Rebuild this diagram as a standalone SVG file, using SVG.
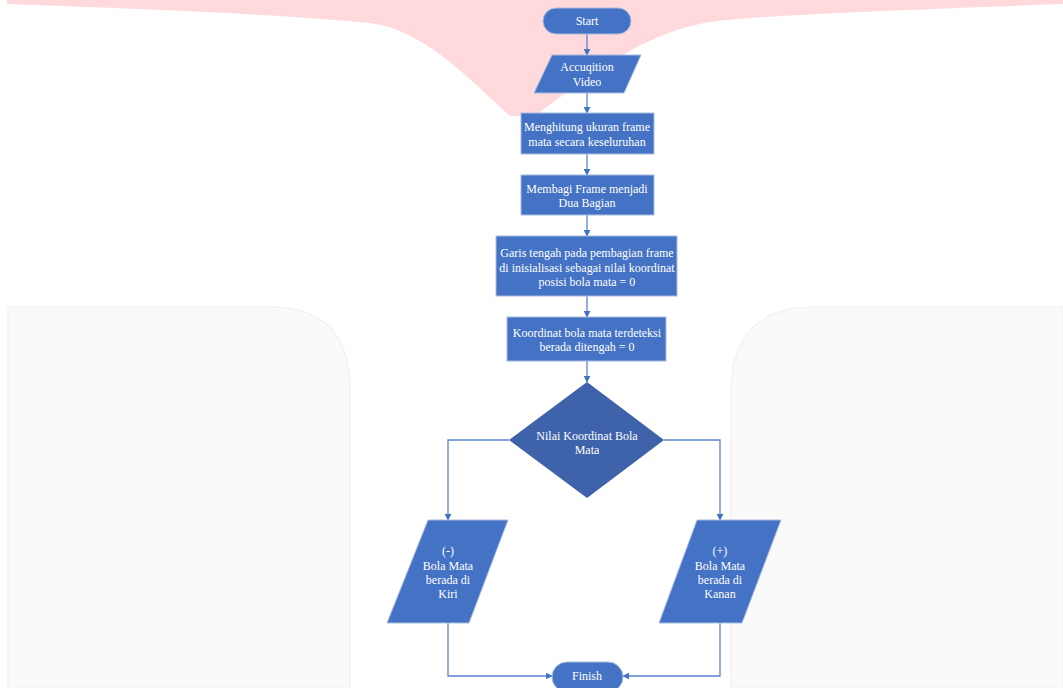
<svg xmlns="http://www.w3.org/2000/svg" width="1063" height="688" viewBox="0 0 1063 688">
<defs>
<style>
.bg{fill:#ffffff}
.pink{fill:#ffd9dc}
.grey{fill:#fafafa;stroke:#f3f3f3;stroke-width:1.5}
.n{fill:#4472c4;stroke:#a9bce0;stroke-width:1}
.d{fill:#3e63ab;stroke:none}
.t{font-family:"Liberation Serif","Times New Roman",serif;font-size:12px;fill:#ffffff;text-anchor:middle}
.c{fill:none;stroke:#5b84cf;stroke-width:1.3}
</style>
<marker id="ah" viewBox="0 0 10 10" refX="9" refY="5" markerWidth="7" markerHeight="7" orient="auto" markerUnits="userSpaceOnUse">
<path d="M0,0 L10,5 L0,10 z" fill="#4472c4"/>
</marker>
</defs>
<rect class="bg" x="0" y="0" width="1063" height="688"/>
<path class="pink" d="M7,0 L1063,0 L1063,4 C900,10 730,16 700,24 C640,36 585,78 535,116 L510,116 C470,80 425,30 370,23 C250,12 110,8 7,4 Z"/>
<path class="grey" d="M8,688 L8,307 L270,307 Q350,307 350,390 L350,688 Z"/>
<path class="grey" d="M1063,307 L815,307 Q731,307 731,392 L731,688 L1063,688 Z"/>

<g id="connectors">
<path class="c" d="M587,34 L587,55" marker-end="url(#ah)"/>
<path class="c" d="M587,93 L587,113" marker-end="url(#ah)"/>
<path class="c" d="M587,154 L587,175" marker-end="url(#ah)"/>
<path class="c" d="M587,215 L587,236" marker-end="url(#ah)"/>
<path class="c" d="M587,296 L587,317" marker-end="url(#ah)"/>
<path class="c" d="M587,361 L587,382" marker-end="url(#ah)"/>
<path class="c" d="M509,440 L448,440 L448,520" marker-end="url(#ah)"/>
<path class="c" d="M664,440 L720,440 L720,520" marker-end="url(#ah)"/>
<path class="c" d="M448,623 L448,676 L552,676" marker-end="url(#ah)"/>
<path class="c" d="M720,623 L720,676 L623,676" marker-end="url(#ah)"/>
</g>

<g id="start">
<rect class="n" x="543" y="8" width="88" height="26" rx="13"/>
<text class="t" x="587" y="25">Start</text>
</g>
<g id="acquisition">
<polygon class="n" points="552,55 641,55 624,93 534,93"/>
<text class="t" x="587" y="71">Accuqition</text>
<text class="t" x="587" y="86">Video</text>
</g>
<g id="menghitung">
<rect class="n" x="521" y="113" width="133" height="41"/>
<text class="t" x="587" y="131">Menghitung ukuran frame</text>
<text class="t" x="587" y="146">mata secara keseluruhan</text>
</g>
<g id="membagi">
<rect class="n" x="521" y="175" width="133" height="40"/>
<text class="t" x="587" y="193">Membagi Frame menjadi</text>
<text class="t" x="587" y="207">Dua Bagian</text>
</g>
<g id="garis">
<rect class="n" x="496" y="236" width="181" height="60"/>
<text class="t" x="587" y="257">Garis tengah pada pembagian frame</text>
<text class="t" x="587" y="272">di inisialisasi sebagai nilai koordinat</text>
<text class="t" x="587" y="286">posisi bola mata = 0</text>
</g>
<g id="koordinat">
<rect class="n" x="507" y="317" width="159" height="44"/>
<text class="t" x="587" y="337">Koordinat bola mata terdeteksi</text>
<text class="t" x="587" y="351">berada ditengah = 0</text>
</g>
<g id="decision">
<polygon class="d" points="587,382 664,440 587,498 509,440"/>
<text class="t" x="587" y="440">Nilai Koordinat Bola</text>
<text class="t" x="587" y="454">Mata</text>
</g>
<g id="kiri">
<polygon class="n" points="428,520 508,520 469,623 387,623"/>
<text class="t" x="448" y="555">(-)</text>
<text class="t" x="448" y="570">Bola Mata</text>
<text class="t" x="448" y="584">berada di</text>
<text class="t" x="448" y="598">Kiri</text>
</g>
<g id="kanan">
<polygon class="n" points="697,520 781,520 742,623 659,623"/>
<text class="t" x="720" y="555">(+)</text>
<text class="t" x="720" y="570">Bola Mata</text>
<text class="t" x="720" y="584">berada di</text>
<text class="t" x="720" y="598">Kanan</text>
</g>
<g id="finish">
<rect class="n" x="552" y="662" width="71" height="30" rx="15"/>
<text class="t" x="587" y="680">Finish</text>
</g>
</svg>
